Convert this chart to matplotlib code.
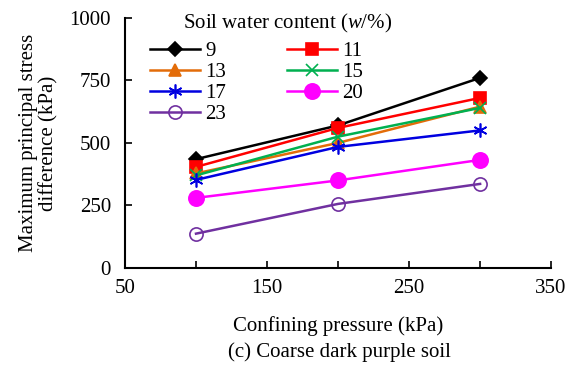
import matplotlib.pyplot as plt
from matplotlib.ticker import FixedLocator

plt.rcParams['font.family'] = ['Liberation Serif', 'DejaVu Serif']
plt.rcParams['mathtext.fontset'] = 'custom'
plt.rcParams['mathtext.rm'] = 'Liberation Serif'
plt.rcParams['mathtext.it'] = 'Liberation Serif:italic'

# confining pressure (kPa)
pressure = [100, 200, 300]

# max principal stress difference (kPa) per water content
w_labels = ['9', '11', '13', '15', '17', '20', '23']
s9 = [435, 570, 760]
s11 = [404, 560, 680]
s13 = [378, 500, 645]
s15 = [370, 525, 640]
s17 = [352, 484, 550]
s20 = [280, 350, 432]
s23 = [137, 256, 336]
series = [s9, s11, s13, s15, s17, s20, s23]

xticks_major = [50, 150, 250, 350]
xticks_minor = [100, 200, 300]
yticks = [0, 250, 500, 750, 1000]

colors = ['black', '#FF0000', '#E36C09', '#00B050', '#0000E0', '#FF00FF', '#7030A0']
markers = ['D', 's', '^', 'x', (6, 2, 0), 'o', 'o']
msizes = [7.5, 8, 8.5, 8.5, 10, 11, 9.5]

fig = plt.figure(figsize=(5.72, 3.65), dpi=100)
ax = fig.add_axes([0.2185, 0.266, 0.745, 0.685])

lines = []
for i in range(len(series)):
    mfc = 'none' if i == 6 else colors[i]
    ln, = ax.plot(pressure, series[i], color=colors[i], marker=markers[i],
                  markersize=msizes[i], markerfacecolor=mfc,
                  markeredgecolor=colors[i], linewidth=1.8,
                  markeredgewidth=1.2, label=w_labels[i])
    lines.append(ln)

ax.set_xlim(50, 350)
ax.set_ylim(0, 1000)
ax.xaxis.set_major_locator(FixedLocator(xticks_major))
ax.xaxis.set_minor_locator(FixedLocator(xticks_minor))
ax.yaxis.set_major_locator(FixedLocator(yticks))
ax.tick_params(direction='in', length=5, width=1.2, labelsize=15)
ax.tick_params(axis='x', pad=8)
ax.tick_params(axis='y', pad=10)
ax.tick_params(axis='x', which='minor', direction='in', length=5, width=1.2)
ax.spines['top'].set_visible(False)
ax.spines['right'].set_visible(False)
ax.spines['left'].set_linewidth(1.5)
ax.spines['bottom'].set_linewidth(1.5)

ax.set_xlabel('Confining pressure (kPa)', fontsize=15, labelpad=13)
ax.set_ylabel('Maximum principal stress\ndifference (kPa)', fontsize=15, labelpad=8,
              linespacing=1.1)
fig.text(0.594, 0.022, '(c) Coarse dark purple soil', fontsize=15, ha='center')

# legend title placed separately (offset to the right as in the figure)
fig.text(183 / 572, 1 - 23 / 365, 'Soil water content ($\\it{w}$/%)', fontsize=15,
         ha='left', va='center')

# row-wise legend order: 9 11 / 13 15 / 17 20 / 23
order = [0, 2, 4, 6, 1, 3, 5]
leg = ax.legend([lines[k] for k in order], [w_labels[k] for k in order], ncol=2,
                loc='upper left', bbox_to_anchor=(0.03, 0.955), frameon=False,
                fontsize=15, handlelength=2.4, columnspacing=2.9, labelspacing=0.07,
                handletextpad=0.25, borderpad=0.1)

fig.savefig('out.png', dpi=100)
